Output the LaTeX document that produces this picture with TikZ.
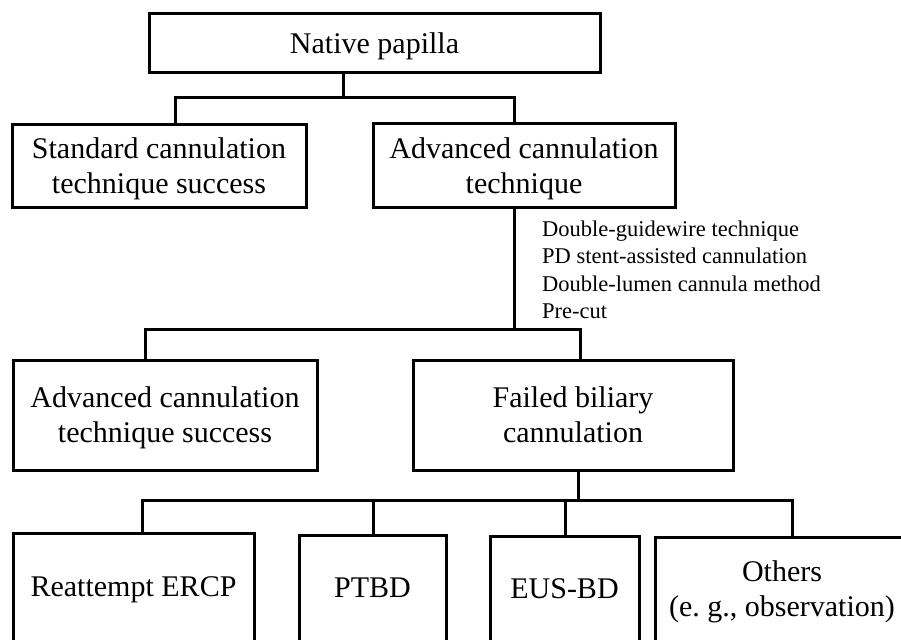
\documentclass[tikz,border=0pt]{standalone}
\usepackage{fontspec}
\setmainfont{Liberation Serif}
\begin{document}
\begin{tikzpicture}[x=1pt,y=-1pt,
  box/.style={draw, line width=3pt, align=center, font=\fontsize{30}{35}\selectfont, inner sep=0pt, text depth=0pt},
  link/.style={line width=3pt},
  note/.style={align=left, font=\fontsize{22.5}{27.5}\selectfont, inner sep=0pt, anchor=north west}]
\clip (0,0) rectangle (901,639);
\fill[white] (0,0) rectangle (901,639);
% level 1
\node[box, minimum width=451pt, minimum height=59pt] (np) at (374.5,43.5) {Native papilla};
% level 2
\node[box, minimum width=294pt, minimum height=82pt] (std) at (159,166) {Standard cannulation\\technique success};
\node[box, minimum width=302pt, minimum height=83pt] (adv) at (524,165.5) {Advanced cannulation\\technique};
% level 3
\node[box, minimum width=304pt, minimum height=110pt] (advs) at (165,415) {Advanced cannulation\\technique success};
\node[box, minimum width=320pt, minimum height=110pt] (fail) at (573,415) {Failed biliary\\cannulation};
% level 4
\node[box, minimum width=241pt, minimum height=108pt] (re) at (133.5,587) {Reattempt ERCP};
\node[box, minimum width=147pt, minimum height=106pt] (ptbd) at (372.5,588) {PTBD};
\node[box, minimum width=149pt, minimum height=105pt] (eus) at (564.5,588.5) {EUS-BD};
\node[box, minimum width=254pt, minimum height=104pt] (oth) at (782,589) {Others\\(e.\ g., observation)};
% note
\node[note] (list) at (542,220.5) {Double-guidewire technique\\PD stent-assisted cannulation\\Double-lumen cannula method\\Pre-cut};
% connectors
\coordinate (j1) at (343,98);
\coordinate (j1l) at (175,98);
\coordinate (j1r) at (514,98);
\draw[link] (np.south -| j1) -- (j1);
\draw[link] (j1l |- std.north) -- (j1l) -- (j1r) -- (j1r |- adv.north);
\coordinate (j2) at (514,329);
\coordinate (j2l) at (145,329);
\coordinate (j2r) at (580,329);
\draw[link] (adv.south -| j2) -- (j2);
\draw[link] (j2l |- advs.north) -- (j2l) -- (j2r) -- (j2r |- fail.north);
\coordinate (j3) at (578,500);
\coordinate (j3a) at (142,500);
\coordinate (j3b) at (373,500);
\coordinate (j3c) at (565,500);
\coordinate (j3d) at (792,500);
\draw[link] (fail.south -| j3) -- (j3);
\draw[link] (j3a |- re.north) -- (j3a) -- (j3d) -- (j3d |- oth.north);
\draw[link] (j3b) -- (j3b |- ptbd.north);
\draw[link] (j3c) -- (j3c |- eus.north);
\end{tikzpicture}
\end{document}
